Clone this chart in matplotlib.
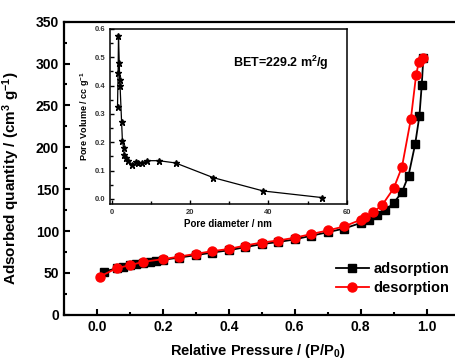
import numpy as np
import matplotlib
matplotlib.use("Agg")
import matplotlib.pyplot as plt
from matplotlib.ticker import MultipleLocator

plt.rcParams['font.family'] = ['Liberation Sans', 'DejaVu Sans']
plt.rcParams['font.weight'] = 'bold'
plt.rcParams['mathtext.default'] = 'regular'

# isotherm data
p_ads = [0.022, 0.06, 0.08, 0.10, 0.12, 0.14, 0.16, 0.18, 0.20, 0.25, 0.30, 0.35, 0.40,
         0.45, 0.50, 0.55, 0.60, 0.65, 0.70, 0.75, 0.80, 0.825, 0.85, 0.875, 0.90,
         0.925, 0.945, 0.965, 0.978, 0.985, 0.99]
q_ads = [51.6, 55.5, 57.6, 59.3, 60.8, 62.3, 63.6, 64.6, 65.6, 68.3, 71.2, 74.3, 77.0,
         80.8, 84.4, 86.9, 90.0, 94.4, 98.6, 103.0, 109.6, 113.5, 118.7, 124.7, 133.6,
         146.3, 166.3, 203.5, 237.4, 274.0, 307.0]

p_des = [0.009, 0.06, 0.10, 0.14, 0.20, 0.25, 0.30, 0.35, 0.40, 0.45, 0.50, 0.55, 0.60,
         0.65, 0.70, 0.75, 0.80, 0.813, 0.838, 0.866, 0.90, 0.925, 0.952, 0.968, 0.976, 0.989]
q_des = [45.6, 55.6, 59.2, 63.2, 66.4, 69.5, 72.8, 76.0, 78.6, 82.7, 86.3, 88.7, 92.0,
         96.4, 100.7, 105.5, 113.5, 116.3, 122.3, 131.5, 151.0, 176.3, 233.5, 286.2, 301.4, 307.0]

# pore size distribution (inset)
pore_d = [1.35, 1.5, 1.6, 1.8, 1.9, 2.0, 2.4, 2.6, 2.9, 3.1, 3.6, 4.1, 5.0, 6.0, 6.7,
          7.6, 9.0, 11.9, 16.2, 25.9, 38.7, 53.6]
pore_v = [0.326, 0.445, 0.576, 0.48, 0.42, 0.40, 0.27, 0.206, 0.18, 0.155, 0.145, 0.134,
          0.121, 0.13, 0.127, 0.127, 0.135, 0.135, 0.127, 0.075, 0.028, 0.005]

fig = plt.figure(figsize=(4.56, 3.61), dpi=100)
ax = fig.add_axes([0.140, 0.128, 0.868, 0.812])

ax.plot(p_ads, q_ads, '-s', color='black', lw=1.3, ms=5.5, label='adsorption')
ax.plot(p_des, q_des, '-o', color='red', lw=1.3, ms=6.5, label='desorption')

ax.set_xlim(-0.1, 1.1)
ax.set_ylim(0, 350)
ax.xaxis.set_major_locator(MultipleLocator(0.2))
ax.xaxis.set_minor_locator(MultipleLocator(0.1))
ax.yaxis.set_major_locator(MultipleLocator(50))
ax.yaxis.set_minor_locator(MultipleLocator(25))
ax.tick_params(which='both', direction='in', width=1.5, labelsize=10)
ax.tick_params(which='major', length=4)
ax.tick_params(which='minor', length=2.5)
ax.set_xticks([0.0, 0.2, 0.4, 0.6, 0.8, 1.0])
ax.set_xticklabels(['0.0', '0.2', '0.4', '0.6', '0.8', '1.0'])
for s in ax.spines.values():
    s.set_linewidth(1.6)

ax.set_xlabel('Relative Pressure / (P/P$_\\mathregular{0}$)', fontsize=10.5, fontweight='bold')
ax.set_ylabel('Adsorbed quantity / (cm$^\\mathregular{3}$ g$^\\mathregular{-1}$)',
              fontsize=11, fontweight='bold')
ax.xaxis.set_label_coords(0.49, -0.092)
ax.yaxis.set_label_coords(-0.105, 0.465)

ax.legend(loc='upper left', bbox_to_anchor=(0.668, 0.205), frameon=False,
          handlelength=2.3, handletextpad=0.3, labelspacing=0.35, borderpad=0,
          prop={'weight': 'bold', 'size': 10.5})

# inset
ins = fig.add_axes([0.241, 0.434, 0.519, 0.486])
ins.plot(pore_d, pore_v, '-*', color='black', lw=0.9, ms=5)
ins.set_xlim(-0.6, 60)
ins.set_ylim(-0.019, 0.6)
ins.xaxis.set_major_locator(MultipleLocator(20))
ins.xaxis.set_minor_locator(MultipleLocator(10))
ins.yaxis.set_major_locator(MultipleLocator(0.1))
ins.yaxis.set_minor_locator(MultipleLocator(0.05))
ins.tick_params(which='both', direction='in', width=1.0, labelsize=5.5, colors='black',
                labelcolor='#333333')
ins.tick_params(which='major', length=3)
ins.tick_params(which='minor', length=2)
for s in ins.spines.values():
    s.set_linewidth(1.1)
ins.set_xlabel('Pore diameter / nm', fontsize=7, fontweight='bold', labelpad=2)
ins.set_ylabel('Pore Volume / cc g$^\\mathregular{-1}$', fontsize=6.5, fontweight='bold', labelpad=2)
ins.text(0.52, 0.806, 'BET=229.2 m$^\\mathregular{2}$/g', transform=ins.transAxes,
         fontsize=9, fontweight='bold', va='center')

fig.savefig('out.png', dpi=100)
